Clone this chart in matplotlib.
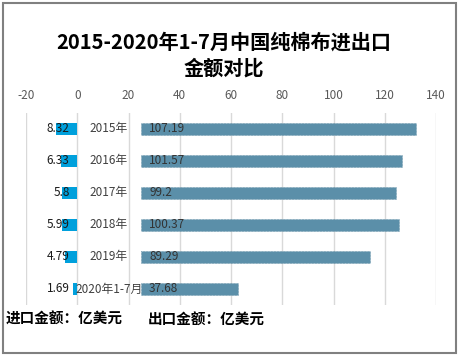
import numpy as np
import matplotlib.pyplot as plt

plt.rcParams['font.family'] = ['Noto Sans CJK SC', 'DejaVu Sans']
plt.rcParams['axes.unicode_minus'] = False

years = ['2015年', '2016年', '2017年', '2018年', '2019年', '2020年1-7月']
imports = [8.32, 6.33, 5.8, 5.99, 4.79, 1.69]
exports = [107.19, 101.57, 99.2, 100.37, 89.29, 37.68]
offset = 25  # gap left for the year labels

fig = plt.figure(figsize=(4.61, 3.56), dpi=100)
fig.patches.append(plt.Rectangle((0.006, 0.008), 0.983, 0.983, transform=fig.transFigure,
                                 fill=False, edgecolor='#808080', linewidth=1.5))

ax = fig.add_axes([0.0564, 0.1433, 0.8894, 0.5393])
y = np.arange(len(years))

ax.barh(y, [-v for v in imports], height=0.4, color='#00A0DC')
ax.barh(y, exports, left=offset, height=0.4, color='#5B8FA9',
        edgecolor='#4F8199', linewidth=0.4, linestyle=':')

for i in range(len(years)):
    ax.text(-3, y[i], str(imports[i]), ha='right', va='center', fontsize=8.5, color='#1a1a1a')
    ax.text(12.3, y[i], years[i], ha='center', va='center', fontsize=8.5, color='#404040')
    ax.text(offset + 3, y[i], str(exports[i]), ha='left', va='center', fontsize=8.5, color='#333333')

ax.set_xlim(-20, 140)
ax.set_ylim(len(years) - 0.5, -0.5)
ax.set_xticks(np.arange(-20, 141, 20))
ax.set_yticks([])
ax.xaxis.tick_top()
ax.tick_params(axis='x', length=0, pad=8, labelsize=8.5, labelcolor='#595959')
ax.grid(axis='x', color='#D9D9D9', linewidth=1)
ax.set_axisbelow(True)
for s in ax.spines.values():
    s.set_visible(False)

fig.text(0.485, 0.882, '2015-2020年1-7月中国纯棉布进出口', ha='center', va='center',
         fontsize=14.5, fontweight='bold')
fig.text(0.485, 0.808, '金额对比', ha='center', va='center', fontsize=14.5, fontweight='bold')

fig.text(0.013, 0.105, '进口金额：亿美元', ha='left', va='center', fontsize=10.5, fontweight='bold')
fig.text(0.32, 0.105, '出口金额：亿美元', ha='left', va='center', fontsize=10.5, fontweight='bold')

fig.savefig('out.png', dpi=100)
